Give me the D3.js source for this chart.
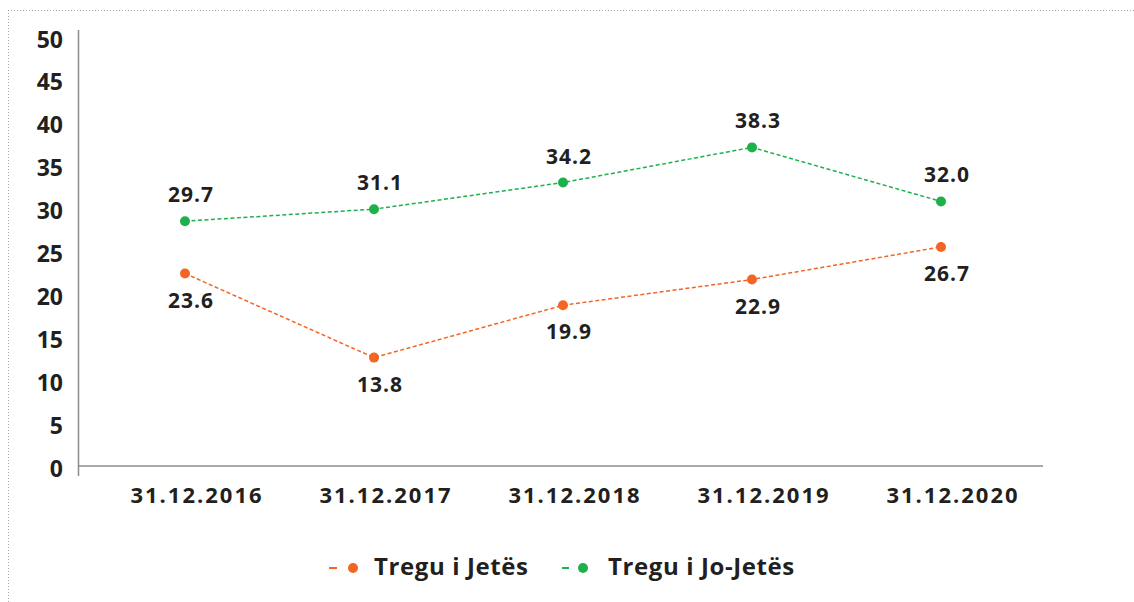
<!DOCTYPE html>
<html><head><meta charset="utf-8">
<script src="https://cdn.jsdelivr.net/npm/d3@7"></script>
<style>body{margin:0;background:#fff}svg{display:block}</style>
</head><body>
<svg id="c" width="1134" height="602"></svg>
<script>
const categories = ["31.12.2016","31.12.2017","31.12.2018","31.12.2019","31.12.2020"];
const lifeValues = [23.6, 13.8, 19.9, 22.9, 26.7];
const nonLifeValues = [29.7, 31.1, 34.2, 38.3, 32.0];
const yTicks = [0,5,10,15,20,25,30,35,40,45,50];
const seriesNames = ["Tregu i Jetës","Tregu i Jo-Jetës"];
const colors = ["#F26522","#1DB14B"];

const svg = d3.select("#c");
const FONT = "'Open Sans', sans-serif";
const TXT = "#231f20";

// dotted frame
svg.append("line").attr("x1",8).attr("x2",1134).attr("y1",10.5).attr("y2",10.5)
  .attr("stroke","#aaa").attr("stroke-dasharray","1,2");
svg.append("line").attr("x1",8.5).attr("x2",8.5).attr("y1",10).attr("y2",602)
  .attr("stroke","#aaa").attr("stroke-dasharray","1,2");

const x = d3.scalePoint().domain(categories).range([185, 941]);
const y = d3.scaleLinear().domain([0,50]).range([476, 47]);

const axisY = 466, axisLeft = 78.5, axisRight = 1043;

// y axis line
svg.append("line").attr("x1",axisLeft).attr("x2",axisLeft).attr("y1",30).attr("y2",y(0))
  .attr("stroke","#8c8c8c").attr("stroke-width",1.5);
// x axis line
svg.append("line").attr("x1",axisLeft).attr("x2",axisRight).attr("y1",axisY).attr("y2",axisY)
  .attr("stroke","#8c8c8c").attr("stroke-width",1.5);

// y tick labels
svg.append("g").selectAll("text").data(yTicks).join("text")
  .attr("x",63).attr("y",d=>y(d)-8.5).attr("text-anchor","end")
  .attr("dominant-baseline","central")
  .attr("font-family",FONT).attr("font-weight",700).attr("font-size",23).attr("fill",TXT)
  .text(d=>d);

// x tick labels
svg.append("g").selectAll("text").data(categories).join("text")
  .attr("x",d=>x(d)+12).attr("y",494).attr("text-anchor","middle")
  .attr("dominant-baseline","central").attr("letter-spacing","2px")
  .attr("font-family",FONT).attr("font-weight",700).attr("font-size",22).attr("fill",TXT)
  .text(d=>d);

const series = [
  {name: seriesNames[0], values: lifeValues, color: colors[0], dy: 26},
  {name: seriesNames[1], values: nonLifeValues, color: colors[1], dy: -27}
];

const line = d3.line().x((d,i)=>x(categories[i])).y(d=>y(d));

series.forEach(s=>{
  svg.append("path").datum(s.values).attr("d",line).attr("fill","none")
    .attr("stroke",s.color).attr("stroke-width",1.5).attr("stroke-dasharray","4,2.5");
  svg.append("g").selectAll("circle").data(s.values).join("circle")
    .attr("cx",(d,i)=>x(categories[i])).attr("cy",d=>y(d)).attr("r",5).attr("fill",s.color);
  svg.append("g").selectAll("text").data(s.values).join("text")
    .attr("x",(d,i)=>x(categories[i])+6).attr("y",d=>y(d)+s.dy)
    .attr("text-anchor","middle").attr("dominant-baseline","central")
    .attr("letter-spacing","1px")
    .attr("font-family",FONT).attr("font-weight",700).attr("font-size",21).attr("fill",TXT)
    .text(d=>d.toFixed(1));
});

// legend
const legendPos = [{dash:[329,337], dot:353, text:374},{dash:[562,569], dot:583, text:608}];
series.forEach((s,i)=>{
  const p = legendPos[i];
  svg.append("line").attr("x1",p.dash[0]).attr("x2",p.dash[1]).attr("y1",568).attr("y2",568)
    .attr("stroke",s.color).attr("stroke-width",2);
  svg.append("circle").attr("cx",p.dot).attr("cy",568).attr("r",5).attr("fill",s.color);
  svg.append("text").attr("x",p.text).attr("y",574.5)
    .attr("font-family",FONT).attr("font-weight",700).attr("font-size",24)
    .attr("letter-spacing","0.6px").attr("fill",TXT)
    .text(s.name);
});
</script>
</body></html>
